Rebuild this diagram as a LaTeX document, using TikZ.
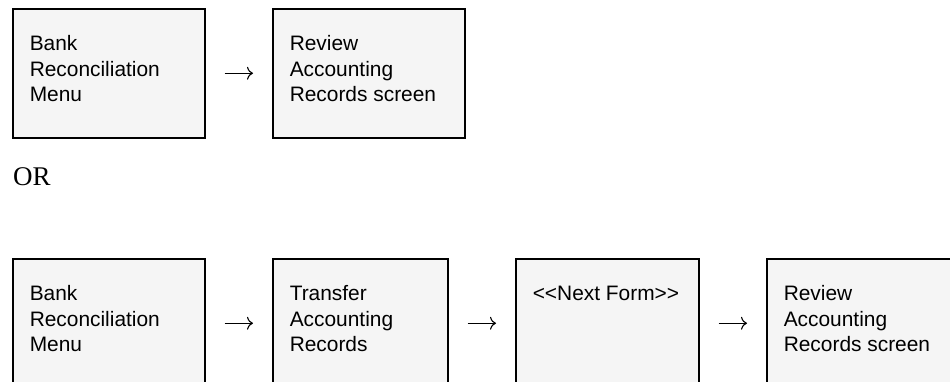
\documentclass[tikz,border=0pt]{standalone}
\usepackage{fontspec}
\usetikzlibrary{arrows.meta}
\setmainfont{Liberation Serif}
\newfontfamily\arialf{Liberation Sans}
\definecolor{boxfill}{RGB}{245,245,245}
% text block of a box: the baseline of its first line is the node baseline
\newcommand{\bxt}[2]{\parbox[t]{#1}{\raggedright #2}}
\tikzset{
  screenbox/.style={draw=black, line width=1.5pt, fill=boxfill, anchor=north west,
    inner xsep=17pt, inner ysep=0pt, text height=42pt, text depth=87pt,
    font=\arialf\fontsize{20.9}{25.5}\selectfont},
  flow/.style={-{Computer Modern Rightarrow[length=6pt, width=13pt]}, line width=1.1pt,
    shorten <=19pt, shorten >=19pt},
}
\begin{document}
\begin{tikzpicture}[x=1pt,y=1pt]
\useasboundingbox (0,0) rectangle (950,-381);
\clip (0,0) rectangle (950,-381);
% first route
\node[screenbox] (t1) at (12,-8)  {\bxt{158pt}{Bank\\Reconciliation\\Menu}};
\node[screenbox] (t2) at (272,-8) {\bxt{158pt}{Review\\Accounting\\Records screen}};
\draw[flow] (t1.east) -- (t2.west);
% alternative
\node[anchor=base west, inner sep=0pt, font=\fontsize{27}{30}\selectfont] (or) at (13,-185) {OR};
% second route
\node[screenbox] (b1) at (12,-258)  {\bxt{158pt}{Bank\\Reconciliation\\Menu}};
\node[screenbox] (b2) at (272,-258) {\bxt{141pt}{Transfer\\Accounting\\Records}};
\node[screenbox] (b3) at (515,-258) {\bxt{149pt}{<<Next Form>>}};
\node[screenbox] (b4) at (766,-258) {\bxt{158pt}{Review\\Accounting\\Records screen}};
\draw[flow] (b1.east) -- (b2.west);
\draw[flow] (b2.east) -- (b3.west);
\draw[flow] (b3.east) -- (b4.west);
\end{tikzpicture}
\end{document}
